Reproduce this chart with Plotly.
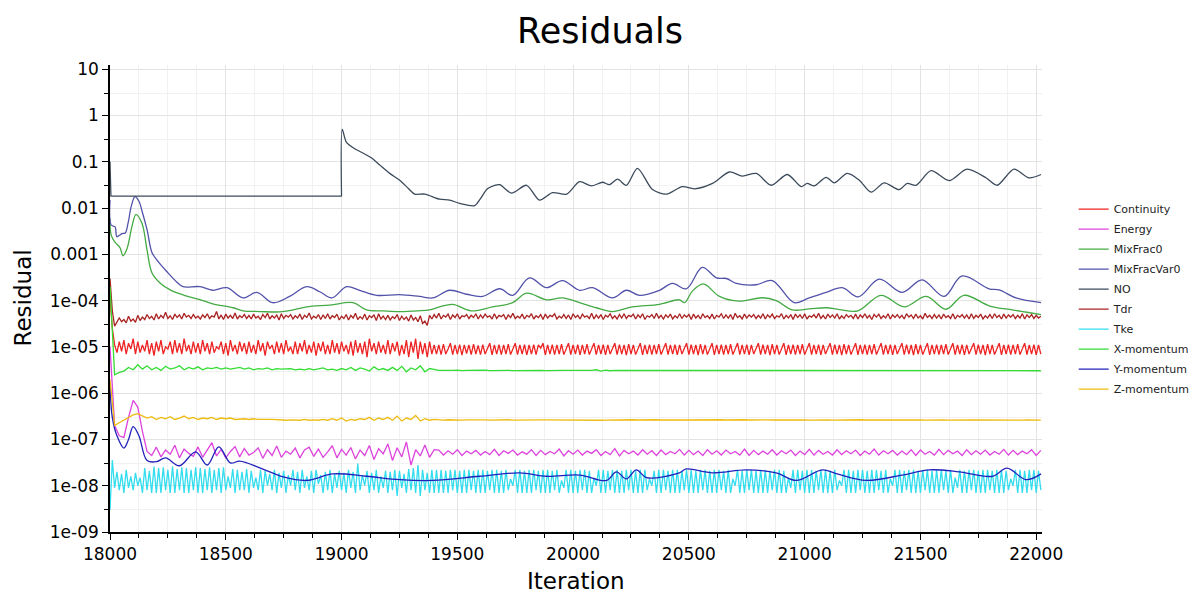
import plotly.graph_objects as go

# ---------------- data ----------------
# smooth series: explicit iteration / value pairs
no_it = [18000, 18004, 19000, 19003, 19020, 19050, 19086, 19130, 19165, 19208, 19251, 19290,
         19316, 19359, 19424, 19467, 19510, 19575, 19600, 19630, 19661, 19683, 19734, 19799,
         19855, 19911, 19972, 20028, 20079, 20127, 20157, 20192, 20230, 20278, 20343, 20403,
         20472, 20524, 20602, 20675, 20731, 20791, 20856, 20925, 20985, 21011, 21041, 21093,
         21128, 21184, 21236, 21287, 21343, 21408, 21443, 21481, 21546, 21624, 21701, 21783,
         21831, 21904, 21969, 22021]
no_val = [0.1, 0.018, 0.018, 0.5, 0.27, 0.2, 0.16, 0.12, 0.085, 0.056, 0.04, 0.026,
          0.02, 0.02, 0.0155, 0.0148, 0.0126, 0.0113, 0.016, 0.026, 0.031, 0.032, 0.021, 0.031,
          0.0148, 0.0215, 0.02, 0.037, 0.03, 0.036, 0.032, 0.042, 0.031, 0.072, 0.025, 0.02,
          0.029, 0.026, 0.034, 0.06, 0.049, 0.056, 0.031, 0.053, 0.029, 0.034, 0.030, 0.046,
          0.035, 0.056, 0.040, 0.022, 0.035, 0.025, 0.034, 0.031, 0.064, 0.039, 0.069, 0.045,
          0.031, 0.069, 0.045, 0.053]
NO_RESTART = 2  # index of iteration 19000, where the NO solver restarts

mfv_it = [18000, 18005, 18022, 18030, 18052, 18066, 18078, 18092, 18108, 18125, 18140, 18160,
          18181, 18203, 18246, 18289, 18315, 18388, 18444, 18505, 18574, 18634, 18703, 18776,
          18849, 18906, 18958, 19022, 19078, 19151, 19251, 19337, 19394, 19467, 19540, 19609,
          19683, 19739, 19812, 19885, 19954, 20028, 20084, 20170, 20230, 20286, 20373, 20429,
          20489, 20558, 20619, 20662, 20705, 20791, 20860, 20955, 21020, 21093, 21162, 21231,
          21322, 21421, 21507, 21602, 21680, 21796, 21840, 21913, 22021]
mfv_val = [0.015, 0.0043, 0.0039, 0.0024, 0.0028, 0.0029, 0.0047, 0.011, 0.0176, 0.014, 0.008, 0.0034,
           0.0011, 0.00075, 0.00042, 0.00025, 0.0002, 0.0002, 0.000167, 0.00019, 0.000114, 0.00015, 0.00009, 0.000123,
           0.0002, 0.000155, 0.000114, 0.0002, 0.000167, 0.00013, 0.000135, 0.000123, 0.000114, 0.000167, 0.000137, 0.000123,
           0.00018, 0.00013, 0.00031, 0.00019, 0.00027, 0.000167, 0.00019, 0.000114, 0.000167, 0.00013, 0.000167, 0.000235,
           0.00018, 0.00052, 0.00031, 0.0003, 0.000235, 0.00022, 0.00027, 0.00009, 0.000114, 0.00015, 0.00019, 0.00012,
           0.00029, 0.00015, 0.00028, 0.000123, 0.00034, 0.00018, 0.00017, 0.000114, 0.00009]

mf_it = [18000, 18005, 18022, 18043, 18056, 18073, 18095, 18112, 18138, 18160, 18181, 18216,
         18260, 18320, 18388, 18444, 18531, 18574, 18650, 18733, 18790, 18849, 18950, 19050,
         19108, 19180, 19251, 19330, 19380, 19424, 19480, 19560, 19652, 19739, 19799, 19885,
         19954, 20028, 20100, 20170, 20256, 20373, 20459, 20481, 20515, 20562, 20632, 20718,
         20817, 20877, 20947, 21020, 21093, 21150, 21230, 21330, 21430, 21525, 21610, 21688,
         21800, 21896, 21960, 22021]
mf_val = [0.006, 0.0026, 0.0018, 0.0014, 0.00093, 0.0013, 0.004, 0.0072, 0.0047, 0.00123, 0.0004, 0.00024,
          0.00017, 0.00013, 0.000105, 0.000085, 0.00007, 0.00006, 0.000058, 0.000057, 0.000063, 0.000073, 0.00008, 0.00009,
          0.000063, 0.00006, 0.000058, 0.00006, 0.000063, 0.000073, 0.000083, 0.00006, 0.000073, 0.00009, 0.000145, 0.000104,
          0.000114, 0.00009, 0.00007, 0.000058, 0.000073, 0.000083, 0.000104, 0.00009, 0.00016, 0.00023, 0.000123, 0.000097,
          0.000115, 0.0001, 0.000063, 0.000066, 0.00007, 0.000064, 0.00006, 0.00013, 0.000073, 0.000123, 0.000065, 0.00013,
          0.000076, 0.000063, 0.000056, 0.00005]

ym_it = [18000, 18010, 18030, 18060, 18080, 18100, 18125, 18160, 18200, 18240, 18300, 18370,
         18420, 18470, 18520, 18560, 18650, 18748, 18849, 18963, 19108, 19251, 19394, 19596,
         19769, 19885, 20028, 20144, 20187, 20230, 20273, 20317, 20459, 20489, 20602, 20748,
         20877, 20964, 21076, 21140, 21266, 21421, 21538, 21667, 21810, 21874, 21956, 22021]
ym_val = [1.5e-6, 3e-7, 1.2e-7, 6.5e-8, 1e-7, 1.9e-7, 1.2e-7, 3.5e-8, 3.3e-8, 4e-8, 2.7e-8, 5.4e-8,
          2.8e-8, 6.9e-8, 3.1e-8, 3.4e-8, 2.4e-8, 1.55e-8, 1.3e-8, 1.8e-8, 1.6e-8, 1.35e-8, 1.3e-8, 1.6e-8,
          1.9e-8, 1.6e-8, 1.7e-8, 1.3e-8, 2e-8, 1.4e-8, 2.2e-8, 1.5e-8, 1.9e-8, 2.3e-8, 1.9e-8, 2.2e-8,
          1.9e-8, 1.3e-8, 2.2e-8, 1.8e-8, 1.3e-8, 1.7e-8, 2.2e-8, 2e-8, 1.6e-8, 2.4e-8, 1.35e-8, 1.8e-8]

# noisy series sampled on a regular iteration grid
FINE_START, FINE_STEP = 18000, 10     # Tke, Continuity, Tdr
COARSE_START, COARSE_STEP = 18000, 20  # Energy, X-, Z-momentum

# Tke, in units of 1e-8
tke_e8 = [
    0.3, 3.6, 0.9, 2.0, 0.8, 1.8, 0.7, 2.2, 0.9, 1.6, 0.8, 1.9, 1.0, 1.5, 0.7, 2.4, 0.8, 2.1, 0.7, 2.6,
    0.7, 2.4, 0.7, 2.5, 0.8, 2.2, 0.7, 2.6, 0.7, 2.3, 0.8, 2.5, 0.7, 2.4, 0.7, 2.2, 0.8, 2.5, 0.7, 2.4,
    0.7, 2.3, 0.8, 2.5, 0.7, 2.2, 0.8, 2.4, 0.7, 2.5, 0.8, 1.6, 0.9, 2.3, 0.7, 2.2, 0.8, 2.0, 0.8, 2.3,
    0.7, 2.1, 0.9, 1.5, 0.8, 2.2, 0.7, 2.1, 1.0, 1.8, 0.8, 2.2, 0.7, 1.9, 0.9, 2.1, 0.7, 1.7, 1.0, 2.2,
    0.8, 2.0, 0.7, 2.2, 0.9, 1.6, 0.8, 2.1, 0.7, 2.2, 1.1, 1.7, 0.7, 2.0, 0.8, 2.2, 0.7, 1.8, 0.9, 2.1,
    0.8, 1.9, 0.7, 2.2, 0.9, 2.0, 0.7, 3.0, 0.8, 1.7, 1.0, 2.1, 0.7, 1.9, 0.8, 2.2, 0.7, 1.6, 0.9, 2.1,
    0.7, 2.0, 0.8, 2.2, 0.6, 2.1, 0.9, 1.8, 0.7, 2.3, 0.8, 2.4, 0.7, 2.8, 0.6, 2.2, 0.8, 1.9, 0.7, 2.2,
    0.7, 2.2, 0.7, 2.2, 0.7, 2.1, 0.7, 2.2, 0.8, 2.2, 0.7, 2.1, 0.7, 2.2, 0.7, 2.2, 0.8, 2.1, 0.7, 2.2,
    0.7, 2.2, 0.7, 2.1, 0.8, 2.2, 0.7, 2.2, 0.7, 2.1, 0.7, 2.2, 0.8, 1.4, 1.0, 2.2, 0.7, 2.2, 0.7, 2.1,
    0.7, 2.2, 0.7, 2.2, 0.8, 2.1, 0.7, 2.2, 0.7, 2.2, 0.7, 2.1, 0.8, 2.2, 0.7, 1.3, 0.9, 2.2, 0.7, 2.2,
    0.7, 2.1, 0.7, 2.2, 0.8, 2.2, 0.7, 2.1, 0.7, 1.5, 1.0, 2.2, 0.7, 2.2, 0.7, 2.1, 0.8, 2.2, 0.7, 2.2,
    0.7, 2.1, 0.7, 2.2, 0.8, 2.2, 0.7, 2.1, 0.7, 2.2, 0.7, 2.2, 0.8, 1.4, 1.0, 2.1, 0.7, 2.2, 0.7, 2.2,
    0.8, 2.1, 0.7, 2.2, 0.7, 2.2, 0.7, 2.1, 0.8, 2.2, 0.7, 2.2, 0.7, 2.1, 0.7, 2.2, 0.8, 2.2, 0.7, 2.1,
    0.7, 2.2, 0.7, 2.2, 0.8, 2.1, 0.7, 2.2, 0.7, 1.4, 1.0, 2.2, 0.7, 2.1, 0.7, 2.2, 0.8, 2.2, 0.7, 2.1,
    0.7, 2.2, 0.7, 2.2, 0.7, 2.1, 0.8, 2.2, 0.7, 2.2, 0.7, 2.1, 0.7, 1.5, 0.9, 2.2, 0.7, 2.2, 0.8, 2.1,
    0.7, 2.2, 0.7, 2.2, 0.7, 2.1, 0.8, 2.2, 0.7, 2.2, 0.7, 2.1, 0.7, 2.2, 0.8, 1.3, 1.0, 2.2, 0.7, 2.2,
    0.7, 2.1, 0.7, 2.2, 0.8, 2.2, 0.7, 2.1, 0.7, 2.2, 0.7, 2.2, 0.8, 2.1, 0.7, 2.2, 0.7, 1.4, 1.0, 2.2,
    0.7, 2.2, 0.7, 2.1, 0.8, 2.2, 0.7, 2.2, 0.7, 2.1, 0.7, 2.2, 0.8, 2.2, 0.7, 2.1, 0.7, 2.2, 0.7, 2.2,
    0.8, 2.1, 0.7, 2.2, 0.7, 1.5, 0.9, 2.2, 0.7, 2.1, 0.7, 2.2, 0.8, 2.2, 0.7, 2.1, 0.7, 2.2, 0.7, 2.2,
    0.8, 2.1, 0.7, 2.2, 0.7, 2.2, 0.7, 2.1, 0.8, 1.4, 1.0, 2.2, 0.7, 2.2, 0.7, 2.1, 0.7, 2.2, 0.8, 2.2,
    0.7, 2.1, 0.8]

# Continuity, in units of 1e-5
cont_e5 = [
    12, 2.5, 1.1, 0.75, 1.3, 0.8, 1.4, 0.7, 1.2, 0.9, 1.5, 0.7, 1.3, 0.75, 1.1, 0.8, 1.4, 0.7, 1.2, 0.65,
    1.3, 0.8, 1.4, 0.7, 1.0, 0.9, 1.3, 0.7, 1.4, 0.75, 1.2, 0.7, 1.5, 0.8, 1.1, 0.7, 1.3, 0.75, 1.2, 0.7,
    1.4, 0.8, 1.2, 0.7, 1.3, 0.75, 1.0, 0.9, 1.3, 0.7, 1.2, 0.65, 1.4, 0.8, 1.1, 0.7, 1.3, 0.8, 1.2, 0.7,
    1.3, 0.75, 1.1, 0.7, 1.4, 0.8, 1.2, 0.65, 1.3, 0.9, 1.1, 0.7, 1.3, 0.75, 1.2, 0.7, 1.4, 0.8, 1.0, 0.7,
    1.3, 0.7, 1.2, 0.8, 1.4, 0.7, 1.1, 0.75, 1.3, 0.65, 1.2, 0.8, 1.3, 0.7, 1.1, 0.7, 1.4, 0.75, 1.2, 0.7,
    1.3, 0.8, 1.1, 0.7, 1.3, 0.65, 1.4, 0.75, 1.2, 0.7, 1.3, 0.6, 1.5, 0.8, 1.2, 0.7, 1.3, 0.75, 1.1, 0.7,
    1.4, 0.7, 1.2, 0.8, 1.3, 0.65, 1.1, 0.7, 1.4, 0.6, 1.3, 0.75, 1.5, 0.55, 1.3, 0.7, 1.2, 0.6, 1.3, 0.7,
    1.1, 0.7, 1.1, 0.68, 1.15, 0.7, 0.9, 1.2, 0.68, 1.1, 0.7, 1.12, 0.66, 1.1, 0.72, 1.1, 0.68, 1.15, 0.7, 1.08,
    0.68, 1.12, 0.7, 0.95, 1.2, 0.67, 1.1, 0.7, 1.12, 0.68, 1.1, 0.7, 1.15, 0.68, 0.92, 1.2, 0.68, 1.1, 0.7, 1.12,
    0.67, 1.1, 0.7, 1.12, 0.68, 1.1, 0.94, 1.2, 0.67, 1.1, 0.7, 1.12, 0.68, 1.1, 0.7, 1.15, 0.68, 0.95, 1.2, 0.68,
    1.1, 0.7, 1.12, 0.67, 1.1, 0.7, 1.15, 0.68, 0.93, 1.2, 0.68, 1.1, 0.7, 1.12, 0.67, 1.1, 0.7, 0.95, 1.2, 0.68,
    1.12, 0.7, 1.1, 0.66, 1.15, 0.7, 1.1, 0.68, 0.94, 1.2, 0.67, 1.1, 0.7, 1.12, 0.68, 1.1, 0.7, 1.15, 0.68, 0.93,
    1.2, 0.68, 1.1, 0.7, 1.12, 0.67, 1.1, 0.7, 0.95, 1.2, 0.68, 1.12, 0.7, 1.1, 0.66, 1.15, 0.7, 1.1, 0.68, 0.94,
    1.2, 0.67, 1.1, 0.7, 1.12, 0.68, 1.1, 0.7, 1.15, 0.68, 0.93, 1.2, 0.68, 1.1, 0.7, 1.12, 0.67, 1.1, 0.7, 0.95,
    1.2, 0.68, 1.12, 0.7, 1.1, 0.66, 1.15, 0.7, 1.1, 0.68, 0.94, 1.2, 0.67, 1.1, 0.7, 1.12, 0.68, 1.1, 0.7, 1.15,
    0.68, 0.93, 1.2, 0.68, 1.1, 0.7, 1.12, 0.67, 1.1, 0.7, 0.95, 1.2, 0.68, 1.12, 0.7, 1.1, 0.66, 1.15, 0.7, 1.1,
    0.68, 0.94, 1.2, 0.67, 1.1, 0.7, 1.12, 0.68, 1.1, 0.7, 1.15, 0.68, 0.93, 1.2, 0.68, 1.1, 0.7, 1.12, 0.67, 1.1,
    0.7, 0.95, 1.2, 0.68, 1.12, 0.7, 1.1, 0.66, 1.15, 0.7, 1.1, 0.68, 0.94, 1.2, 0.67, 1.1, 0.7, 1.12, 0.68, 1.1,
    0.7, 1.15, 0.68, 0.93, 1.2, 0.68, 1.1, 0.7, 1.12, 0.67, 1.1, 0.7, 0.95, 1.2, 0.68, 1.12, 0.7, 1.1, 0.66, 1.15,
    0.7, 1.1, 0.68, 0.94, 1.2, 0.67, 1.1, 0.7, 1.12, 0.68, 1.1, 0.7, 1.15, 0.68, 0.93, 1.2, 0.68, 1.1, 0.7, 1.12,
    0.67, 1.1, 0.7]

# Tdr, in units of 1e-5
tdr_e5 = [
    30, 6.0, 2.8, 3.4, 4.2, 3.5, 3.9, 3.3, 4.6, 3.6, 4.0, 3.4, 4.8, 3.7, 4.4, 3.9, 5.0, 4.1, 4.6, 3.8,
    5.2, 4.0, 4.8, 4.2, 5.6, 4.1, 4.7, 3.9, 5.1, 4.3, 4.9, 4.0, 5.3, 4.4, 4.8, 4.1, 5.0, 4.2, 4.6, 4.0,
    4.9, 4.3, 5.2, 4.1, 4.7, 4.4, 5.8, 4.0, 4.9, 3.9, 5.1, 4.2, 4.8, 4.1, 5.4, 4.0, 4.7, 4.3, 5.0, 4.1,
    4.8, 4.0, 5.1, 4.2, 4.6, 3.9, 5.0, 4.3, 5.3, 4.0, 4.7, 4.2, 4.9, 3.8, 5.2, 4.1, 4.8, 4.4, 5.0, 4.0,
    4.7, 4.2, 5.1, 3.9, 4.8, 4.3, 5.4, 4.0, 4.6, 4.2, 5.0, 3.9, 4.9, 4.1, 5.2, 4.0, 4.7, 4.3, 5.1, 3.8,
    4.6, 4.1, 5.0, 3.8, 4.8, 4.2, 5.3, 3.9, 4.5, 4.0, 5.1, 3.8, 4.7, 4.3, 4.9, 3.7, 5.2, 4.0, 4.6, 3.9,
    4.8, 3.8, 4.5, 4.1, 5.0, 3.7, 4.6, 3.9, 4.4, 3.6, 4.9, 3.8, 4.3, 3.5, 4.7, 3.2, 3.6, 2.9, 4.8, 4.0,
    5.0, 4.2, 5.3, 4.0, 4.8, 4.4, 5.1, 3.9, 4.9, 4.3, 5.2, 4.0, 4.7, 4.5, 5.0, 4.1, 4.8, 4.3, 5.2, 4.0,
    4.9, 4.2, 5.1, 4.4, 4.7, 4.0, 5.2, 4.1, 4.8, 4.5, 5.0, 3.9, 4.9, 4.3, 5.3, 4.1, 4.6, 4.2, 5.1, 4.0,
    4.8, 4.4, 5.2, 4.0, 4.7, 4.3, 5.0, 3.9, 5.1, 4.2, 4.8, 4.5, 5.2, 4.0, 4.6, 4.2, 5.0, 4.1, 4.9, 3.9,
    5.2, 4.3, 4.8, 4.0, 5.1, 4.4, 4.7, 4.1, 5.3, 4.0, 4.9, 4.2, 5.0, 3.9, 4.8, 4.4, 5.2, 4.1, 4.7, 4.0,
    5.0, 4.2, 5.2, 4.1, 4.8, 4.5, 5.1, 4.0, 4.9, 4.3, 5.2, 3.9, 4.7, 4.4, 5.0, 4.1, 5.3, 4.2, 4.8, 4.0,
    4.9, 4.3, 5.1, 4.0, 4.7, 4.2, 5.2, 4.1, 4.9, 4.4, 5.0, 3.9, 5.1, 4.2, 4.8, 4.0, 5.2, 4.3, 4.7, 4.1,
    5.1, 4.0, 4.8, 4.4, 5.2, 4.1, 4.9, 4.2, 5.0, 3.9, 5.3, 4.3, 4.7, 4.0, 5.1, 4.2, 4.9, 4.4, 5.0, 4.1,
    4.8, 4.2, 5.2, 4.0, 4.9, 4.3, 5.1, 4.1, 4.7, 4.4, 5.2, 4.0, 4.8, 4.2, 5.0, 3.9, 5.1, 4.3, 4.9, 4.1,
    5.2, 4.0, 4.7, 4.4, 5.0, 4.2, 5.3, 4.1, 4.8, 4.0, 5.1, 4.3, 4.9, 4.2, 5.2, 4.0, 4.7, 4.1, 5.0, 4.4,
    4.8, 4.1, 5.1, 4.0, 4.9, 4.3, 5.2, 4.2, 4.8, 3.9, 5.0, 4.4, 5.1, 4.1, 4.7, 4.2, 5.2, 4.0, 4.9, 4.3,
    5.0, 4.2, 4.8, 4.0, 5.2, 4.4, 4.9, 4.1, 5.1, 4.2, 4.7, 4.0, 5.3, 4.3, 4.8, 4.1, 5.0, 4.2, 4.9, 4.0,
    5.1, 4.3, 4.7, 4.1, 5.2, 4.0, 4.8, 4.4, 5.0, 4.2, 4.9, 4.0, 5.2, 4.1, 4.8, 4.3, 5.1, 4.0, 4.7, 4.2,
    5.0, 4.1, 5.2, 4.3, 4.8, 4.0, 5.1, 4.2, 4.9, 4.4, 5.0, 4.1, 4.8, 4.2, 5.2, 4.0, 4.9, 4.3, 5.0, 4.1,
    4.8, 4.2, 4.6]

# Energy, in units of 1e-8
energy_e8 = [
    1000, 20, 12, 11, 30, 70, 50, 15, 5.5,
    4.5, 6.8, 4.2, 5.9, 4.8, 7.5, 4.0, 6.2, 5.0, 4.3, 6.9, 4.1, 5.8, 8.5, 4.4, 6.1, 4.0, 5.5, 7.0, 4.2,
    6.4, 4.6, 5.2, 6.6, 3.9, 6.0, 4.5, 7.2, 4.1, 5.6, 4.8, 6.5, 4.0, 5.9, 6.8, 4.3, 6.2, 4.1, 5.4, 7.3,
    4.0, 6.1, 4.6, 6.7, 3.8, 5.9, 4.5, 7.4, 3.7, 6.3, 4.9, 8.0, 3.5, 6.6, 4.2, 8.8, 2.8, 6.0, 4.4, 7.6,
    4.1, 6.0,
    5.9, 4.6, 5.7, 4.8, 6.0, 4.5, 5.6, 4.9, 5.8, 4.6, 5.5, 4.7, 6.1, 4.5, 5.7, 5.0, 5.9, 4.6, 5.4, 4.8,
    6.0, 4.5, 5.8, 4.7, 5.5, 4.9, 6.2, 4.4, 5.7, 4.8, 5.9, 4.6, 5.6, 5.0, 6.0, 4.5, 5.5, 4.7, 6.3, 4.4,
    5.8, 4.9, 5.6, 4.6, 6.0, 4.8, 5.7, 4.5, 5.9, 4.7, 5.5, 4.9, 6.1, 4.6, 5.8, 4.7, 5.6, 4.5, 6.0, 4.8,
    5.7, 4.6, 5.9, 4.9, 5.5, 4.6, 6.2, 4.5, 5.8, 4.7, 5.6, 4.8, 6.0, 4.6, 5.7, 4.9, 5.9, 4.5, 5.6, 4.7,
    6.1, 4.6, 5.8, 4.8, 5.5, 4.6, 6.0, 4.7, 5.7, 4.9, 5.9, 4.5, 5.6, 4.8, 6.2, 4.6, 5.7, 4.9, 5.8, 4.6,
    5.6, 4.7, 6.0, 4.5, 5.9, 4.8, 5.5, 4.6, 6.1, 4.7, 5.8, 4.9, 5.6, 4.5, 6.0, 4.7, 5.7, 4.8, 5.9, 4.6,
    5.5, 4.8, 6.1, 4.6, 5.8, 4.7, 5.6, 4.9, 6.0, 4.5, 5.8]

# X-momentum, in units of 1e-6
xmom_e6 = [
    200, 2.5, 2.8, 3.0, 3.6, 3.2, 4.1, 3.3, 3.9, 3.2, 3.6,
    3.1, 3.8, 3.3, 3.5, 3.9, 3.2, 3.6, 3.3, 3.7, 3.2, 3.5, 3.4, 3.6, 3.3, 3.5, 3.3, 3.4, 3.6, 3.3, 3.5,
    3.2, 3.4, 3.3, 3.5, 3.2, 3.4, 3.3, 3.3, 3.4, 3.2, 3.3, 3.2, 3.4, 3.2, 3.3, 3.5, 3.2, 3.3, 3.1, 3.4,
    3.2, 3.6, 3.1, 3.5, 3.3, 3.0, 3.7, 3.2, 3.4, 3.1, 3.6, 3.1, 3.8, 2.9, 3.5, 3.2, 3.9, 2.9, 3.4, 3.2,
    3.1, 3.12, 3.08, 3.1, 3.14, 3.06, 3.1, 3.12, 3.08, 3.1, 3.13, 3.07, 3.1, 3.11, 3.09, 3.12, 3.08, 3.1, 3.1, 3.06,
    3.12, 3.09, 3.1, 3.08, 3.11, 3.1, 3.07, 3.12, 3.1, 3.08, 3.1, 3.13, 3.06, 3.1, 3.2, 3.0, 3.15, 3.05, 3.1, 3.1,
    3.08, 3.12, 3.1, 3.09, 3.11, 3.1, 3.08, 3.12, 3.1, 3.07, 3.11, 3.1, 3.09, 3.12, 3.08, 3.1, 3.11, 3.09, 3.1, 3.12,
    3.08, 3.1, 3.13, 3.07, 3.1, 3.11, 3.09, 3.1, 3.12, 3.08, 3.1, 3.11, 3.09, 3.1, 3.12, 3.08, 3.1, 3.11, 3.1, 3.09,
    3.12, 3.08, 3.1, 3.11, 3.09, 3.1, 3.13, 3.07, 3.1, 3.12, 3.15, 3.1, 3.12, 3.09, 3.14, 3.1, 3.12, 3.08, 3.13, 3.1,
    3.11, 3.09, 3.12, 3.1, 3.08, 3.11, 3.1, 3.09, 3.12, 3.1, 3.08, 3.11, 3.1, 3.09, 3.12, 3.08, 3.1, 3.11, 3.09, 3.1,
    3.08, 3.1, 3.07, 3.09, 3.06, 3.08, 3.05, 3.07, 3.06, 3.05, 3.05]

# Z-momentum, in units of 1e-7
zmom_e7 = [
    20, 2.0, 2.3, 2.6, 3.0, 3.4, 3.6, 3.2, 2.9, 3.1, 2.7,
    3.0, 2.8, 3.1, 2.7, 2.9, 3.2, 2.8, 3.0, 2.7, 2.9, 2.8, 3.0, 2.7, 2.9, 2.8, 2.9, 2.7, 2.8, 2.8, 2.7,
    2.8, 2.7, 2.75, 2.7, 2.7, 2.65, 2.7, 2.6, 2.65, 2.6, 2.6, 2.7, 2.6, 2.65, 2.6, 2.7, 2.6, 2.8, 2.6, 2.9,
    2.5, 2.7, 2.6, 2.8, 2.7, 3.0, 2.6, 2.9, 2.7, 3.0, 2.6, 3.2, 2.5, 2.9, 2.7, 3.3, 2.5, 2.8, 2.6, 2.7,
    2.65, 2.62, 2.66, 2.63, 2.65, 2.62, 2.64, 2.66, 2.63, 2.65, 2.64, 2.62, 2.65, 2.63, 2.64, 2.66, 2.62, 2.64, 2.65, 2.63,
    2.64, 2.62, 2.65, 2.64, 2.63, 2.65, 2.62, 2.64, 2.63, 2.65, 2.62, 2.64, 2.63, 2.6, 2.57, 2.6, 2.62, 2.64, 2.63, 2.65,
    2.64, 2.62, 2.66, 2.63, 2.65, 2.62, 2.64, 2.66, 2.63, 2.65, 2.64, 2.62, 2.65, 2.63, 2.64, 2.66, 2.62, 2.64, 2.65, 2.63,
    2.64, 2.66, 2.63, 2.65, 2.62, 2.64, 2.66, 2.63, 2.65, 2.64, 2.62, 2.65, 2.63, 2.64, 2.66, 2.62, 2.64, 2.65, 2.63, 2.64,
    2.62, 2.65, 2.64, 2.63, 2.65, 2.62, 2.64, 2.63, 2.65, 2.62, 2.64, 2.66, 2.63, 2.65, 2.64, 2.62, 2.65, 2.63, 2.64, 2.66,
    2.62, 2.64, 2.65, 2.63, 2.64, 2.62, 2.65, 2.64, 2.63, 2.65, 2.62, 2.64, 2.63, 2.65, 2.62, 2.64, 2.63, 2.62, 2.64, 2.63,
    2.62, 2.64, 2.63, 2.62, 2.63, 2.61, 2.62, 2.63, 2.61, 2.62, 2.62]

y_tickvals = [1e-9, 1e-8, 1e-7, 1e-6, 1e-5, 1e-4, 1e-3, 1e-2, 1e-1, 1, 10]
y_ticktext = ["1e-09", "1e-08", "1e-07", "1e-06", "1e-05", "1e-04", "0.001", "0.01", "0.1", "1", "10"]
y_minor_vals = [3e-9, 3e-8, 3e-7, 3e-6, 3e-5, 3e-4, 3e-3, 3e-2, 3e-1, 3]
x_tickvals = [18000, 18500, 19000, 19500, 20000, 20500, 21000, 21500, 22000]
x_ticktext = ["18000", "18500", "19000", "19500", "20000", "20500", "21000", "21500", "22000"]

# ---------------- figure ----------------
def grid(start, step, n):
    return [start + step * i for i in range(n)]

COLORS = {
    "Continuity": "#ee2222", "Energy": "#dd44dd", "MixFrac0": "#44aa44", "MixFracVar0": "#5252aa",
    "NO": "#3c4b5c", "Tdr": "#aa2222", "Tke": "#33ddee", "X-momentum": "#33dd33",
    "Y-momentum": "#2222bb", "Z-momentum": "#eebb11",
}

fig = go.Figure()

def add(name, xs, ys, shape="linear", smoothing=None, showlegend=True):
    line = dict(color=COLORS[name], width=1.3, shape=shape)
    if smoothing is not None:
        line["smoothing"] = smoothing
    fig.add_trace(go.Scatter(x=xs, y=ys, mode="lines", name=name, legendgroup=name,
                             showlegend=showlegend, line=line))

add("Continuity", grid(FINE_START, FINE_STEP, len(cont_e5)), [v * 1e-5 for v in cont_e5])
add("Energy", grid(COARSE_START, COARSE_STEP, len(energy_e8)), [v * 1e-8 for v in energy_e8])
add("MixFrac0", mf_it, mf_val, "spline", 1.0)
add("MixFracVar0", mfv_it, mfv_val, "spline", 1.0)
add("NO", no_it[:NO_RESTART + 1], no_val[:NO_RESTART + 1])
add("NO", no_it[NO_RESTART:], no_val[NO_RESTART:], "spline", 0.8, showlegend=False)
add("Tdr", grid(FINE_START, FINE_STEP, len(tdr_e5)), [v * 1e-5 for v in tdr_e5])
add("Tke", grid(FINE_START, FINE_STEP, len(tke_e8)), [v * 1e-8 for v in tke_e8])
add("X-momentum", grid(COARSE_START, COARSE_STEP, len(xmom_e6)), [v * 1e-6 for v in xmom_e6])
add("Y-momentum", ym_it, ym_val, "spline", 1.0)
add("Z-momentum", grid(COARSE_START, COARSE_STEP, len(zmom_e7)), [v * 1e-7 for v in zmom_e7])

FONT = "DejaVu Sans"
fig.update_layout(
    width=1200, height=594,
    margin=dict(l=110, r=158, t=65, b=62, autoexpand=False),
    paper_bgcolor="white", plot_bgcolor="white",
    font=dict(family=FONT, color="black"),
    title=dict(text="Residuals", x=0.5, xref="container", y=1 - 31 / 594, yref="container",
               xanchor="center", yanchor="middle", font=dict(family=FONT, size=35, color="black")),
    legend=dict(x=1.034, y=0.7225, xanchor="left", yanchor="top", font=dict(family=FONT, size=11, color="#222"),
                bgcolor="rgba(0,0,0,0)", borderwidth=0, itemwidth=30, tracegroupgap=1),
    showlegend=True,
    annotations=[
        dict(text="Iteration", x=0.5, xref="paper", y=0, yref="paper", xanchor="center", yanchor="middle",
             yshift=-49, showarrow=False, font=dict(family=FONT, size=23, color="black")),
        dict(text="Residual", x=0, xref="paper", y=0.5, yref="paper", xanchor="center", yanchor="middle",
             xshift=-88, textangle=-90, showarrow=False, font=dict(family=FONT, size=23, color="black")),
    ],
)
fig.update_xaxes(
    range=[18000, 22025], tickvals=x_tickvals, ticktext=x_ticktext, ticks="outside", ticklen=6, tickwidth=1,
    tickcolor="black", showline=True, linecolor="black", linewidth=1.5, mirror=False, zeroline=False,
    showgrid=True, gridcolor="#e3e3e3", gridwidth=1, automargin=False,
    tickfont=dict(family=FONT, size=17, color="black"),
    minor=dict(dtick=125, tick0=18000, ticks="outside", ticklen=4, tickcolor="black",
               showgrid=True, gridcolor="#f1f1f1", gridwidth=1),
)
fig.update_yaxes(
    type="log", range=[-9, 1.09], tickvals=y_tickvals, ticktext=y_ticktext,
    ticks="outside", ticklen=6, tickwidth=1, tickcolor="black",
    showline=True, linecolor="black", linewidth=1.5, zeroline=False,
    showgrid=True, gridcolor="#e3e3e3", gridwidth=1, automargin=False,
    tickfont=dict(family=FONT, size=17, color="black"),
    minor=dict(tickmode="array", tickvals=y_minor_vals, ticks="outside", ticklen=4, tickcolor="black",
               showgrid=True, gridcolor="#f1f1f1", gridwidth=1),
)

fig.write_html("out.html")
